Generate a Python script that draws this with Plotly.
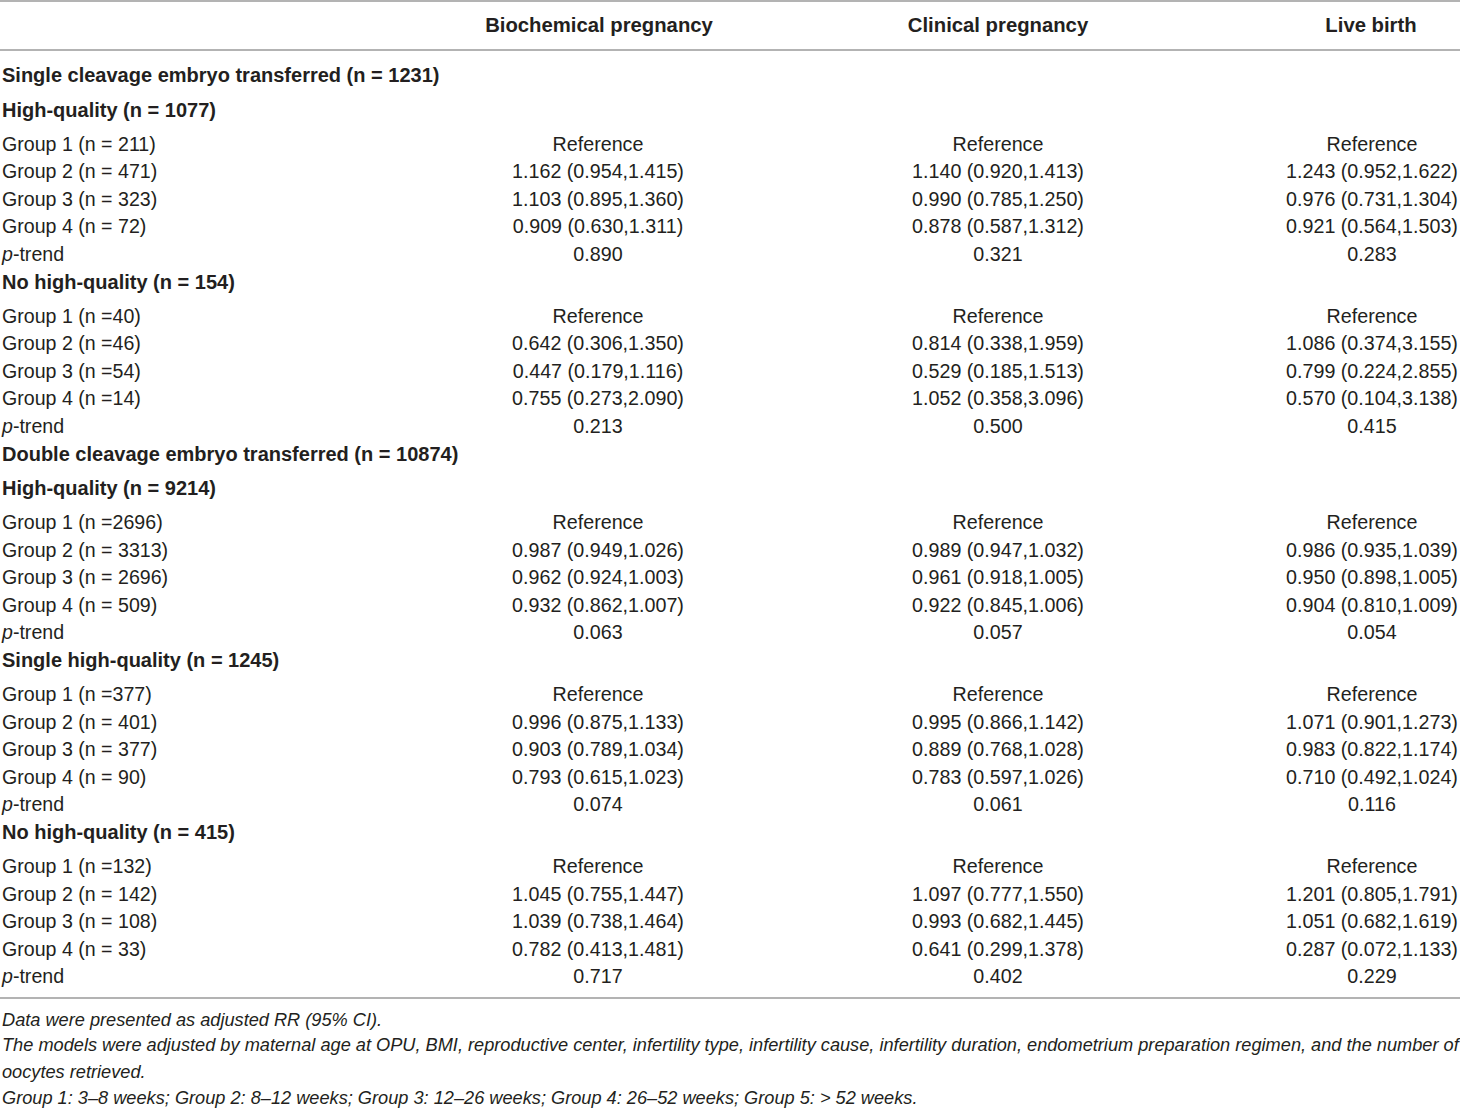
import plotly.graph_objects as go

# table content
col_heads = ["Biochemical pregnancy", "Clinical pregnancy", "Live birth"]

row_labels = [
    "Single cleavage embryo transferred (n = 1231)",
    "High-quality (n = 1077)",
    "Group 1 (n = 211)", "Group 2 (n = 471)", "Group 3 (n = 323)", "Group 4 (n = 72)", "p-trend",
    "No high-quality (n = 154)",
    "Group 1 (n =40)", "Group 2 (n =46)", "Group 3 (n =54)", "Group 4 (n =14)", "p-trend",
    "Double cleavage embryo transferred (n = 10874)",
    "High-quality (n = 9214)",
    "Group 1 (n =2696)", "Group 2 (n = 3313)", "Group 3 (n = 2696)", "Group 4 (n = 509)", "p-trend",
    "Single high-quality (n = 1245)",
    "Group 1 (n =377)", "Group 2 (n = 401)", "Group 3 (n = 377)", "Group 4 (n = 90)", "p-trend",
    "No high-quality (n = 415)",
    "Group 1 (n =132)", "Group 2 (n = 142)", "Group 3 (n = 108)", "Group 4 (n = 33)", "p-trend",
]

# 'h' = bold heading row, 'd' = data row
row_kind = ["h", "h", "d", "d", "d", "d", "d",
            "h", "d", "d", "d", "d", "d",
            "h", "h", "d", "d", "d", "d", "d",
            "h", "d", "d", "d", "d", "d",
            "h", "d", "d", "d", "d", "d"]

biochem = ["", "",
           "Reference", "1.162 (0.954,1.415)", "1.103 (0.895,1.360)", "0.909 (0.630,1.311)", "0.890",
           "",
           "Reference", "0.642 (0.306,1.350)", "0.447 (0.179,1.116)", "0.755 (0.273,2.090)", "0.213",
           "", "",
           "Reference", "0.987 (0.949,1.026)", "0.962 (0.924,1.003)", "0.932 (0.862,1.007)", "0.063",
           "",
           "Reference", "0.996 (0.875,1.133)", "0.903 (0.789,1.034)", "0.793 (0.615,1.023)", "0.074",
           "",
           "Reference", "1.045 (0.755,1.447)", "1.039 (0.738,1.464)", "0.782 (0.413,1.481)", "0.717"]

clinical = ["", "",
            "Reference", "1.140 (0.920,1.413)", "0.990 (0.785,1.250)", "0.878 (0.587,1.312)", "0.321",
            "",
            "Reference", "0.814 (0.338,1.959)", "0.529 (0.185,1.513)", "1.052 (0.358,3.096)", "0.500",
            "", "",
            "Reference", "0.989 (0.947,1.032)", "0.961 (0.918,1.005)", "0.922 (0.845,1.006)", "0.057",
            "",
            "Reference", "0.995 (0.866,1.142)", "0.889 (0.768,1.028)", "0.783 (0.597,1.026)", "0.061",
            "",
            "Reference", "1.097 (0.777,1.550)", "0.993 (0.682,1.445)", "0.641 (0.299,1.378)", "0.402"]

live = ["", "",
        "Reference", "1.243 (0.952,1.622)", "0.976 (0.731,1.304)", "0.921 (0.564,1.503)", "0.283",
        "",
        "Reference", "1.086 (0.374,3.155)", "0.799 (0.224,2.855)", "0.570 (0.104,3.138)", "0.415",
        "", "",
        "Reference", "0.986 (0.935,1.039)", "0.950 (0.898,1.005)", "0.904 (0.810,1.009)", "0.054",
        "",
        "Reference", "1.071 (0.901,1.273)", "0.983 (0.822,1.174)", "0.710 (0.492,1.024)", "0.116",
        "",
        "Reference", "1.201 (0.805,1.791)", "1.051 (0.682,1.619)", "0.287 (0.072,1.133)", "0.229"]

footnotes = [
    "Data were presented as adjusted RR (95% CI).",
    "The models were adjusted by maternal age at OPU, BMI, reproductive center, infertility type, infertility cause, infertility duration, endometrium preparation regimen, and the number of",
    "oocytes retrieved.",
    "Group 1: 3–8 weeks; Group 2: 8–12 weeks; Group 3: 12–26 weeks; Group 4: 26–52 weeks; Group 5: > 52 weeks.",
]

W, H = 1460, 1108
INK = "#231f20"
FONT = "Liberation Sans"
col_x = [598, 998, 1372]

# vertical layout: rows after a heading row sit a little further down
ys = []
y = 77.0
for i, k in enumerate(row_kind):
    if i > 0:
        y += 34.5 if row_kind[i - 1] == "h" else 27.5
    ys.append(y)

labels = []
sizes = []
for lab, k in zip(row_labels, row_kind):
    if k == "h":
        labels.append("<b>" + lab + "</b>")
        sizes.append(20)
    elif lab == "p-trend":
        labels.append("<i>p</i>-trend")
        sizes.append(19.6)
    else:
        labels.append(lab)
        sizes.append(19.6)

fig = go.Figure()

fig.add_trace(go.Scatter(
    x=[2] * len(labels), y=ys, text=labels, mode="text",
    textposition="middle right",
    textfont=dict(family=FONT, size=sizes, color=INK),
    hoverinfo="skip", showlegend=False))

for cx, vals in zip(col_x, [biochem, clinical, live]):
    fig.add_trace(go.Scatter(
        x=[cx] * len(vals), y=ys, text=vals, mode="text",
        textposition="middle center",
        textfont=dict(family=FONT, size=19.7, color=INK),
        hoverinfo="skip", showlegend=False))

# column headers
fig.add_trace(go.Scatter(
    x=[599, 998, 1371], y=[27] * 3, text=["<b>" + c + "</b>" for c in col_heads], mode="text",
    textposition="middle center",
    textfont=dict(family=FONT, size=20.3, color=INK),
    hoverinfo="skip", showlegend=False))

# footnotes
fig.add_trace(go.Scatter(
    x=[2] * 4, y=[1021, 1046, 1073, 1099], text=["<i>" + f + "</i>" for f in footnotes],
    mode="text", textposition="middle right",
    textfont=dict(family=FONT, size=18.2, color=INK),
    hoverinfo="skip", showlegend=False))

for ly in [1, 50, 998]:
    fig.add_shape(type="line", x0=0, x1=W, y0=ly, y1=ly,
                  line=dict(color="#9a9a9a", width=1.5), layer="below")

fig.update_layout(
    width=W, height=H,
    margin=dict(l=0, r=0, t=0, b=0),
    paper_bgcolor="white", plot_bgcolor="white",
    xaxis=dict(range=[0, W], visible=False, fixedrange=True),
    yaxis=dict(range=[H, 0], visible=False, fixedrange=True),
)

fig.write_html("out.html", config={"displayModeBar": False},
               post_script="document.body.style.margin='0';")
